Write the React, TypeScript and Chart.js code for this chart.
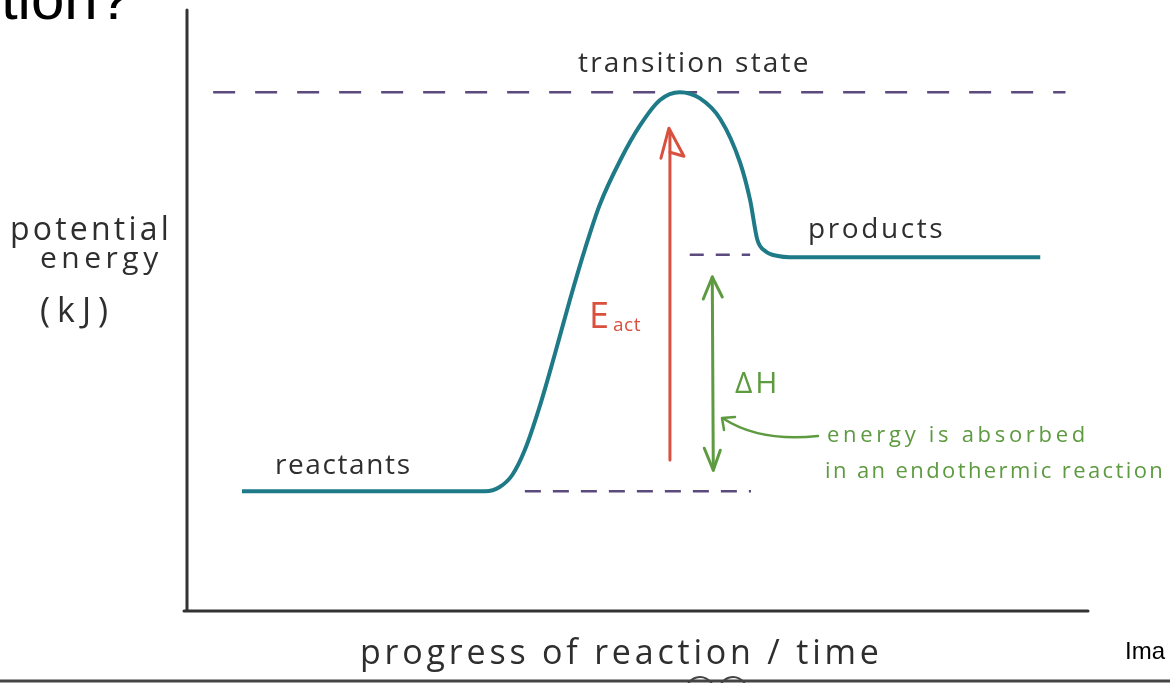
import React, { useEffect, useRef } from "react";
import { Chart, registerables } from "chart.js";

Chart.register(...registerables);

// progress of reaction (0..100) vs potential energy (0..100, arbitrary kJ)
const curveProgress = [6.1, 33.1, 34.7, 36.1, 37.5, 39.2, 40.8, 42.5, 44.2, 45.8, 48.1, 50.3, 52.5, 54.7, 56.9, 59.2, 61.4, 62.5, 63.3, 64.2, 65.6, 66.9, 94.7];
const curveEnergy = [19.8, 19.8, 20.5, 22.5, 26.7, 34.2, 42.5, 51.7, 60.3, 67.5, 75.0, 80.8, 85.0, 86.3, 85.3, 81.8, 74.5, 68.3, 61.7, 59.8, 59.0, 58.8, 58.8];

const transitionLine = { from: 2.9, to: 97.5, energy: 86.3 };
const productsDash = { from: 55.8, to: 62.5, energy: 59.2 };
const reactantsDash = { from: 37.5, to: 62.6, energy: 19.8 };

const eactArrow = { progress: 53.6, from: 25.0, to: 80.3 };
const deltaHArrow = { progress: 58.3, from: 23.3, to: 55.5 };

const labels = {
  transition: "transition state",
  products: "products",
  reactants: "reactants",
  yAxis: ["potential", "energy", "(kJ)"],
  xAxis: "progress of reaction / time",
  eact: "E",
  eactSub: "act",
  deltaH: "ΔH",
  note: ["energy is absorbed", "in an endothermic reaction"],
};

const HAND = "'Open Sans', 'DejaVu Sans', sans-serif";
const INK = "#2e2e2e";
const TEAL = "#1f7a88";
const PURPLE = "#5b4a7e";
const RED = "#d9503f";
const GREEN = "#5d9a40";

function seg(from: number, to: number, y: number) {
  return [
    { x: from, y },
    { x: to, y },
  ];
}

function txt(ctx: any, s: string, x: number, y: number, size: number, spacing: number) {
  ctx.font = `${size}px ${HAND}`;
  ctx.letterSpacing = `${spacing}px`;
  ctx.fillText(s, x, y);
  ctx.letterSpacing = "0px";
}

const decorPlugin = {
  id: "decor",
  beforeDatasetsDraw(chart: any) {
    const { ctx, chartArea } = chart;
    ctx.save();
    ctx.strokeStyle = "#333";
    ctx.lineWidth = 3;
    ctx.lineCap = "round";
    ctx.beginPath();
    ctx.moveTo(chartArea.left, chartArea.top);
    ctx.lineTo(chartArea.left, chartArea.bottom + 1);
    ctx.moveTo(chartArea.left - 3, chartArea.bottom + 1);
    ctx.lineTo(chartArea.right, chartArea.bottom + 1);
    ctx.stroke();
    ctx.restore();
  },
  afterDatasetsDraw(chart: any) {
    const { ctx, scales } = chart;
    const xs = scales.x;
    const ys = scales.y;
    ctx.save();

    // Eact arrow (red)
    const ex = xs.getPixelForValue(eactArrow.progress);
    const ey0 = ys.getPixelForValue(eactArrow.from);
    const ey1 = ys.getPixelForValue(eactArrow.to);
    ctx.strokeStyle = RED;
    ctx.lineWidth = 3;
    ctx.lineCap = "round";
    ctx.lineJoin = "round";
    ctx.beginPath();
    ctx.moveTo(ex, ey0);
    ctx.lineTo(ex, ey1 + 4);
    ctx.stroke();
    ctx.beginPath();
    ctx.moveTo(ex - 9, ey1 + 30);
    ctx.lineTo(ex - 1, ey1);
    ctx.lineTo(ex + 14, ey1 + 28);
    ctx.lineTo(ex, ey1 + 24);
    ctx.stroke();

    // Delta H double arrow (green)
    const gx = xs.getPixelForValue(deltaHArrow.progress);
    const gy0 = ys.getPixelForValue(deltaHArrow.from);
    const gy1 = ys.getPixelForValue(deltaHArrow.to);
    ctx.strokeStyle = GREEN;
    ctx.lineWidth = 3;
    ctx.beginPath();
    ctx.moveTo(gx, gy1);
    ctx.lineTo(gx + 1, gy0);
    ctx.stroke();
    ctx.beginPath();
    ctx.moveTo(gx - 9, gy1 + 22);
    ctx.lineTo(gx, gy1);
    ctx.lineTo(gx + 10, gy1 + 20);
    ctx.moveTo(gx - 8, gy0 - 22);
    ctx.lineTo(gx + 1, gy0);
    ctx.lineTo(gx + 8, gy0 - 20);
    ctx.stroke();

    // curved pointer arrow
    ctx.lineWidth = 2.5;
    ctx.beginPath();
    ctx.moveTo(818, 436);
    ctx.quadraticCurveTo(760, 442, 724, 419);
    ctx.stroke();
    ctx.beginPath();
    ctx.moveTo(724, 430);
    ctx.lineTo(722, 418);
    ctx.lineTo(735, 417);
    ctx.stroke();

    // text
    ctx.textBaseline = "alphabetic";
    ctx.textAlign = "left";
    ctx.fillStyle = INK;
    txt(ctx, labels.transition, 578, 72, 28, 2.2);
    txt(ctx, labels.products, 808, 238, 28, 2.6);
    txt(ctx, labels.reactants, 275, 474, 28, 1.6);

    txt(ctx, labels.yAxis[0], 10, 240, 32, 3.2);
    txt(ctx, labels.yAxis[1], 40, 268, 30, 4.5);
    txt(ctx, labels.yAxis[2], 40, 322, 34, 7);

    txt(ctx, labels.xAxis, 360, 664, 34, 3.8);

    ctx.fillStyle = RED;
    txt(ctx, labels.eact, 589, 328, 36, 0);
    txt(ctx, labels.eactSub, 613, 331, 19, 0.5);

    ctx.fillStyle = GREEN;
    txt(ctx, labels.deltaH, 735, 393, 30, 3);
    txt(ctx, labels.note[0], 827, 442, 22, 3.7);
    txt(ctx, labels.note[1], 825, 478, 22, 2.4);

    // slide fragments
    ctx.fillStyle = "#000";
    ctx.font = "60px 'Liberation Sans', Arial, sans-serif";
    ctx.textAlign = "right";
    ctx.fillText("Reaction?", 131, 19);
    ctx.font = "24px 'Liberation Sans', Arial, sans-serif";
    ctx.textAlign = "left";
    ctx.fillText("Ima", 1125, 659);

    ctx.strokeStyle = "#444";
    ctx.lineWidth = 3;
    ctx.beginPath();
    ctx.moveTo(0, 681);
    ctx.lineTo(1170, 681);
    ctx.stroke();
    ctx.lineWidth = 2;
    ctx.beginPath();
    ctx.arc(700, 691, 14, Math.PI * 1.15, Math.PI * 1.85);
    ctx.stroke();
    ctx.beginPath();
    ctx.arc(733, 691, 14, Math.PI * 1.15, Math.PI * 1.85);
    ctx.stroke();

    ctx.restore();
  },
};

export default function App() {
  const ref = useRef<HTMLCanvasElement | null>(null);
  useEffect(() => {
    document.body.style.margin = "0";
    const canvas = ref.current!;
    const dashStyle = {
      borderColor: PURPLE,
      borderWidth: 2.5,
      borderDash: [22, 20],
      pointRadius: 0,
      tension: 0,
    };
    const chart = new Chart(canvas, {
      type: "line",
      data: {
        datasets: [
          {
            label: "energy profile",
            data: curveProgress.map((x, i) => ({ x, y: curveEnergy[i] })),
            borderColor: TEAL,
            borderWidth: 4,
            pointRadius: 0,
            cubicInterpolationMode: "monotone",
            fill: false,
          },
          { label: "transition", data: seg(transitionLine.from, transitionLine.to, transitionLine.energy), ...dashStyle },
          { label: "products level", data: seg(productsDash.from, productsDash.to, productsDash.energy), ...dashStyle, borderDash: [14, 12] },
          { label: "reactants level", data: seg(reactantsDash.from, reactantsDash.to, reactantsDash.energy), ...dashStyle, borderDash: [16, 12] },
        ],
      },
      options: {
        responsive: false,
        animation: false,
        layout: { padding: { left: 187, right: 82, top: 10, bottom: 73 } },
        plugins: { legend: { display: false }, tooltip: { enabled: false } },
        scales: {
          x: { type: "linear", min: 0, max: 100, display: false },
          y: { type: "linear", min: 0, max: 100, display: false },
        },
      },
      plugins: [decorPlugin],
    } as any);
    return () => chart.destroy();
  }, []);
  return (
    <div style={{ position: "absolute", left: 0, top: 0, width: 1170, height: 683, background: "#fff" }}>
      <canvas ref={ref} width={1170} height={683} style={{ display: "block" }} />
    </div>
  );
}
